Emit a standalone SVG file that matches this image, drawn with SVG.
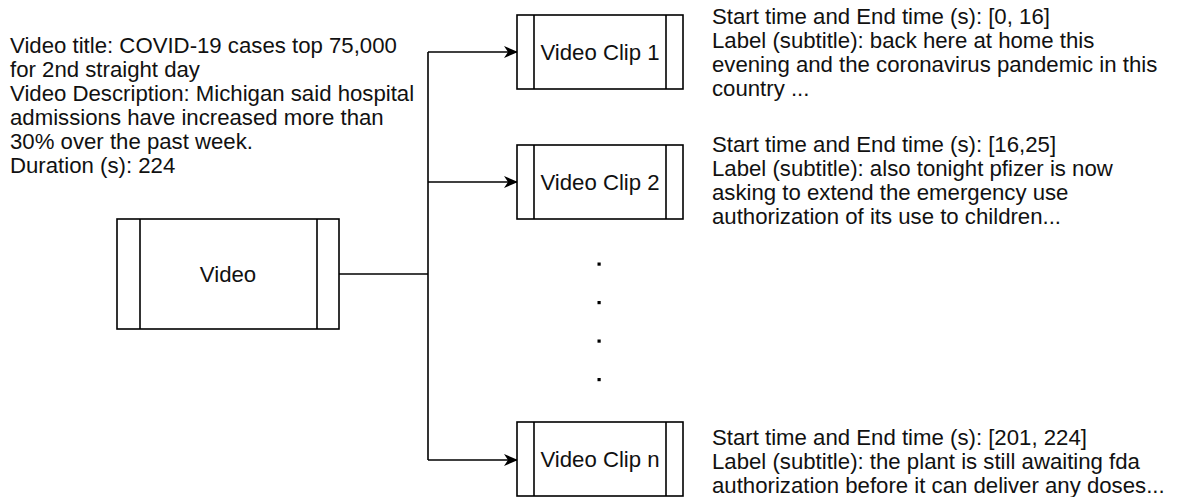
<svg xmlns="http://www.w3.org/2000/svg" width="1177" height="497" viewBox="0 0 1177 497">
  <defs>
    <style>
      .box { fill: #ffffff; stroke: #000000; stroke-width: 1.6; }
      .div { stroke: #000000; stroke-width: 1.6; fill: none; }
      .edge { stroke: #000000; stroke-width: 1.6; fill: none; }
      .lbl { font-family: "Liberation Sans", Arial, Helvetica, sans-serif; font-size: 22.2px; fill: #111111; }
      .mid { text-anchor: middle; }
      .dot { fill: #000000; }
    </style>
    <marker id="arrow" viewBox="0 0 14 12" refX="13" refY="6" markerWidth="14" markerHeight="12" markerUnits="userSpaceOnUse" orient="auto">
      <path d="M0,0 L14,6 L0,12 L4,6 Z" fill="#000000"/>
    </marker>
  </defs>

  <!-- description of the source video -->
  <g id="video-info">
    <text class="lbl" x="10" y="53">Video title: COVID-19 cases top 75,000</text>
    <text class="lbl" x="10" y="77">for 2nd straight day</text>
    <text class="lbl" x="10" y="101">Video Description: Michigan said hospital</text>
    <text class="lbl" x="10" y="125">admissions have increased more than</text>
    <text class="lbl" x="10" y="149">30% over the past week.</text>
    <text class="lbl" x="10" y="173">Duration (s): 224</text>
  </g>

  <!-- source video process box -->
  <g id="video">
    <rect class="box" x="117" y="219" width="222" height="110"/>
    <line class="div" x1="140" y1="219" x2="140" y2="329"/>
    <line class="div" x1="317" y1="219" x2="317" y2="329"/>
    <text class="lbl mid" x="228" y="282">Video</text>
  </g>

  <!-- connectors -->
  <g id="connectors">
    <path class="edge" d="M339,274 H428"/>
    <path class="edge" d="M428,52 V460"/>
    <path class="edge" d="M428,52 H517" marker-end="url(#arrow)"/>
    <path class="edge" d="M428,182 H517" marker-end="url(#arrow)"/>
    <path class="edge" d="M428,460 H517" marker-end="url(#arrow)"/>
  </g>

  <!-- clip 1 -->
  <g id="clip-1">
    <rect class="box" x="517" y="15" width="166" height="74"/>
    <line class="div" x1="534" y1="15" x2="534" y2="89"/>
    <line class="div" x1="666" y1="15" x2="666" y2="89"/>
    <text class="lbl mid" x="600" y="60">Video Clip 1</text>
  </g>
  <g id="clip-1-info">
    <text class="lbl" x="712" y="24">Start time and End time (s): [0, 16]</text>
    <text class="lbl" x="712" y="48">Label (subtitle): back here at home this</text>
    <text class="lbl" x="712" y="72">evening and the coronavirus pandemic in this</text>
    <text class="lbl" x="712" y="96">country ...</text>
  </g>

  <!-- clip 2 -->
  <g id="clip-2">
    <rect class="box" x="517" y="145" width="166" height="74"/>
    <line class="div" x1="534" y1="145" x2="534" y2="219"/>
    <line class="div" x1="666" y1="145" x2="666" y2="219"/>
    <text class="lbl mid" x="600" y="190">Video Clip 2</text>
  </g>
  <g id="clip-2-info">
    <text class="lbl" x="712" y="152">Start time and End time (s): [16,25]</text>
    <text class="lbl" x="712" y="176">Label (subtitle): also tonight pfizer is now</text>
    <text class="lbl" x="712" y="200">asking to extend the emergency use</text>
    <text class="lbl" x="712" y="224">authorization of its use to children...</text>
  </g>

  <!-- ellipsis between clips -->
  <g id="ellipsis">
    <rect class="dot" x="597.5" y="262.5" width="3.2" height="3.2"/>
    <rect class="dot" x="597.5" y="301" width="3.2" height="3.2"/>
    <rect class="dot" x="597.5" y="339.5" width="3.2" height="3.2"/>
    <rect class="dot" x="597.5" y="378" width="3.2" height="3.2"/>
  </g>

  <!-- clip n -->
  <g id="clip-n">
    <rect class="box" x="517" y="422" width="166" height="74"/>
    <line class="div" x1="534" y1="422" x2="534" y2="496"/>
    <line class="div" x1="666" y1="422" x2="666" y2="496"/>
    <text class="lbl mid" x="600" y="467">Video Clip n</text>
  </g>
  <g id="clip-n-info">
    <text class="lbl" x="712" y="445">Start time and End time (s): [201, 224]</text>
    <text class="lbl" x="712" y="469">Label (subtitle): the plant is still awaiting fda</text>
    <text class="lbl" x="712" y="493">authorization before it can deliver any doses...</text>
  </g>
</svg>
